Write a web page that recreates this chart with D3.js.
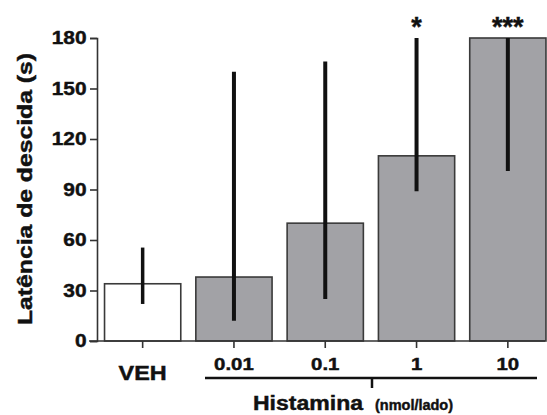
<!DOCTYPE html>
<html>
<head>
<meta charset="utf-8">
<script src="https://cdn.jsdelivr.net/npm/d3@7"></script>
<style>
  body { margin: 0; background: #fff; }
  text { font-family: "Liberation Sans", Arial, sans-serif; font-weight: bold; stroke: #111; stroke-width: 0.45px; }
</style>
</head>
<body>
<div id="container"></div>
<script>
// data
const categories = ['VEH', '0.01', '0.1', '1', '10'];
const means = [34, 38, 70, 110, 180];
const errLow = [22, 12, 25, 89, 101];
const errHigh = [55.5, 160, 166, 180, 180];
const signif = ['', '', '', '*', '***'];
const yTicks = [0, 30, 60, 90, 120, 150, 180];

const width = 547, height = 415;
const data = categories.map((c, i) => ({
  cat: c, mean: means[i], lo: errLow[i], hi: errHigh[i], sig: signif[i]
}));

const svg = d3.select('#container')
  .append('svg')
  .attr('width', width)
  .attr('height', height);

// 1. scales
const x = d3.scaleBand()
  .domain(categories)
  .range([97, 553.5])
  .paddingInner(0.165)
  .paddingOuter(0.0825);
const y = d3.scaleLinear().domain([0, 180]).range([341, 38]);

// 2. bars
svg.selectAll('.bar')
  .data(data)
  .enter()
  .append('rect')
  .attr('class', 'bar')
  .attr('x', d => x(d.cat))
  .attr('y', d => y(d.mean))
  .attr('width', x.bandwidth())
  .attr('height', d => y(0) - y(d.mean))
  .attr('fill', d => d.cat == 'VEH' ? '#ffffff' : '#a2a2a6')
  .attr('stroke', '#3a3a3a')
  .attr('stroke-width', 1.6);

// 3. error bars (single line, no caps)
svg.selectAll('.err')
  .data(data)
  .enter()
  .append('line')
  .attr('x1', d => x(d.cat) + x.bandwidth() / 2)
  .attr('x2', d => x(d.cat) + x.bandwidth() / 2)
  .attr('y1', d => y(d.lo))
  .attr('y2', d => y(d.hi))
  .attr('stroke', '#111')
  .attr('stroke-width', d => d.cat == 'VEH' ? 3.5 : 4);

// 4. significance stars
svg.selectAll('.sig')
  .data(data.filter(d => d.sig))
  .enter()
  .append('text')
  .attr('x', d => x(d.cat) + x.bandwidth() / 2)
  .attr('y', 36)
  .attr('text-anchor', 'middle')
  .attr('font-size', 27)
  .attr('fill', '#111')
  .text(d => d.sig);

// 5. y axis
const yAxis = svg.append('g')
  .attr('transform', 'translate(97,0)')
  .call(d3.axisLeft(y).tickValues(yTicks).tickSize(7).tickPadding(2));
yAxis.select('.domain').attr('stroke', '#333').attr('stroke-width', 1.6);
yAxis.selectAll('.tick line').attr('stroke', '#333').attr('stroke-width', 1.6);
yAxis.selectAll('.tick text')
  .attr('font-size', 18)
  .attr('fill', '#111')
  .attr('font-family', '"Liberation Sans", Arial, sans-serif')
  .attr('transform', 'scale(1.16,1)');

// 6. x axis
const xAxis = svg.append('g')
  .attr('transform', 'translate(0,341)')
  .call(d3.axisBottom(x).tickSize(7).tickSizeOuter(0).tickFormat(''));
xAxis.select('.domain').attr('d', 'M89,0H545').attr('stroke', '#333').attr('stroke-width', 1.6);
xAxis.selectAll('.tick line').attr('stroke', '#333').attr('stroke-width', 1.6);

// tick labels drawn separately (VEH is larger)
svg.selectAll('.xlab')
  .data(data)
  .enter()
  .append('text')
  .attr('text-anchor', 'middle')
  .attr('fill', '#111')
  .attr('font-size', d => d.cat == 'VEH' ? 19.5 : 17)
  .attr('transform', d => {
    let cx = x(d.cat) + x.bandwidth() / 2;
    let by = d.cat == 'VEH' ? 380 : 370;
    return `translate(${cx},${by}) scale(1.2,1)`;
  })
  .text(d => d.cat);

// 7. Histamina bracket
svg.append('line')
  .attr('x1', 205).attr('x2', 537)
  .attr('y1', 378).attr('y2', 378)
  .attr('stroke', '#111').attr('stroke-width', 2.5);
svg.append('line')
  .attr('x1', 372).attr('x2', 372)
  .attr('y1', 378).attr('y2', 388)
  .attr('stroke', '#111').attr('stroke-width', 2.5);

svg.append('text')
  .attr('x', 253).attr('y', 410)
  .attr('font-size', 20)
  .attr('fill', '#111')
  .attr('textLength', 110)
  .attr('lengthAdjust', 'spacingAndGlyphs')
  .text('Histamina');
svg.append('text')
  .attr('x', 375).attr('y', 410)
  .attr('font-size', 14)
  .attr('fill', '#111')
  .attr('textLength', 78)
  .attr('lengthAdjust', 'spacingAndGlyphs')
  .text('(nmol/lado)');

// 8. y label
svg.append('text')
  .attr('transform', 'translate(32,189) rotate(-90)')
  .attr('text-anchor', 'middle')
  .attr('font-size', 20.5)
  .attr('fill', '#111')
  .attr('textLength', 272)
  .attr('lengthAdjust', 'spacingAndGlyphs')
  .text('Latência de descida (s)');
</script>
</body>
</html>
